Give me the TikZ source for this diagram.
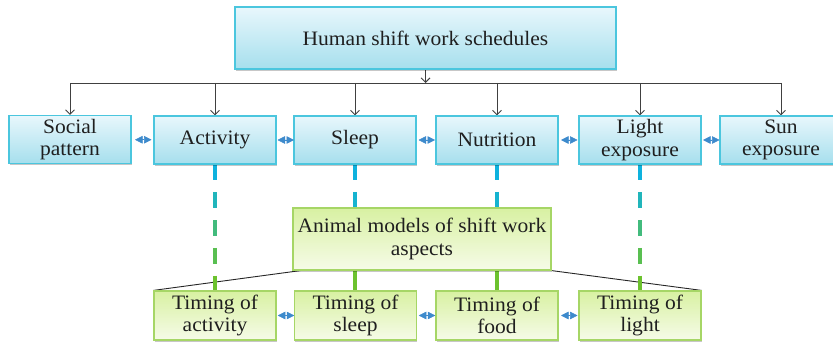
\documentclass[tikz,border=0pt]{standalone}
\usepackage{fontspec}
\setmainfont{Liberation Serif}[FakeStretch=1.05]
\usetikzlibrary{arrows.meta,calc,shadows,backgrounds}
\definecolor{cyanline}{RGB}{14,178,222}
\definecolor{greenline}{RGB}{108,194,46}
\definecolor{bborder}{RGB}{75,198,222}
\definecolor{btop}{RGB}{232,247,252}
\definecolor{bbot}{RGB}{166,223,237}
\definecolor{gborder}{RGB}{166,214,102}
\definecolor{gtop}{RGB}{216,241,162}
\definecolor{gbot}{RGB}{246,251,232}
\definecolor{dblblue}{RGB}{61,138,204}
\definecolor{treegray}{RGB}{64,64,64}
\newcommand{\boxfont}{\fontsize{20.5}{22.5}\selectfont}
\tikzset{
  basebox/.style={line width=1.2pt, inner sep=0pt, align=center, font=\boxfont,
    text=black!88, drop shadow={shadow xshift=0.8pt, shadow yshift=-1.6pt, fill=black, opacity=0.22}},
  bluebox/.style={basebox, draw=bborder, top color=btop, bottom color=bbot,
    minimum width=122pt, minimum height=48pt},
  greenbox/.style={basebox, draw=gborder, top color=gtop, bottom color=gbot,
    minimum width=122pt, minimum height=49pt},
  treearrow/.style={draw=treegray, line width=0.9pt, -{Straight Barb[length=4.5pt,width=9pt]}},
  treeline/.style={draw=treegray, line width=0.9pt},
  dblarrow/.style={draw=dblblue, line width=0.5pt,
    {Triangle[length=7.5pt,width=7.5pt]}-{Triangle[length=7.5pt,width=7.5pt]}, fill=dblblue},
  vline/.style={line width=3.6pt},
  diagline/.style={draw=black!85, line width=0.9pt},
}
\begin{document}
\begin{tikzpicture}[x=1pt,y=-1pt]
\useasboundingbox (0,0) rectangle (833,342);
% top box
\node[bluebox, minimum width=381pt, minimum height=62pt] (top) at (425.5,38) {Human shift work schedules};
% first row
\node[bluebox] (social) at (70,139.5) {Social\\pattern};
\node[bluebox] (activity) at (215,140) {Activity};
\node[bluebox] (sleep) at (355,140) {Sleep};
\node[bluebox] (nutrition) at (497,140) {Nutrition};
\node[bluebox] (light) at (640,140) {Light\\exposure};
\node[bluebox] (sun) at (781,140) {Sun\\exposure};
% animal box
\node[greenbox, minimum width=258pt, minimum height=62pt] (animal) at (422,239) {Animal models of shift work\\aspects};
% second row
\node[greenbox] (tact) at (215,315.5) {Timing of\\activity};
\node[greenbox] (tsleep) at (355.5,315.5) {Timing of\\sleep};
\node[greenbox] (tfood) at (497,315.5) {Timing of\\food};
\node[greenbox] (tlight) at (640,315.5) {Timing of\\light};
\coordinate (bus) at (0,83);
\begin{scope}[on background layer]
% tree
\draw[treearrow] (top.south) -- (top.south |- bus);
\draw[treeline] (social.north |- bus) -- (sun.north |- bus);
\foreach \n in {social,activity,sleep,nutrition,light,sun}{
  \draw[treearrow] (\n.north |- bus) -- (\n.north);
}
% diagonal lines
\draw[diagline] ([xshift=8pt]animal.south west) -- (tact.north west);
\draw[diagline] (animal.south east) -- (tlight.north east);
% long gradient dashed lines
\foreach \u/\v in {activity/tact, light/tlight}{
  \foreach \a/\b/\p in {0/16/0, 28/44/20, 56/72/55, 84/100/80, 112/127/100}{
    \draw[vline, greenline!\p!cyanline] ($(\u.south)!\a/127!(\v.north)$) -- ($(\u.south)!\b/127!(\v.north)$);
  }
}
% short dashed lines to the animal box and solid green to the timing boxes
\foreach \u/\v in {sleep/tsleep, nutrition/tfood}{
  \foreach \a/\b/\p in {0/16/0, 28/44/8}{
    \draw[vline, greenline!\p!cyanline] ($(\u.south)!\a/44!(\u.south |- animal.north)$) -- ($(\u.south)!\b/44!(\u.south |- animal.north)$);
  }
  \draw[vline, greenline] (\u.south |- animal.south) -- (\u.south |- \v.north);
}
\end{scope}
% double arrows, centred in the gap between neighbouring boxes
\foreach \l/\r in {social/activity, activity/sleep, sleep/nutrition, nutrition/light, light/sun, tact/tsleep, tsleep/tfood, tfood/tlight}{
  \draw[dblarrow] ($(\l.east)!0.5!(\r.west)+(-7.5,0)$) -- ($(\l.east)!0.5!(\r.west)+(9,0)$);
}
\end{tikzpicture}
\end{document}
